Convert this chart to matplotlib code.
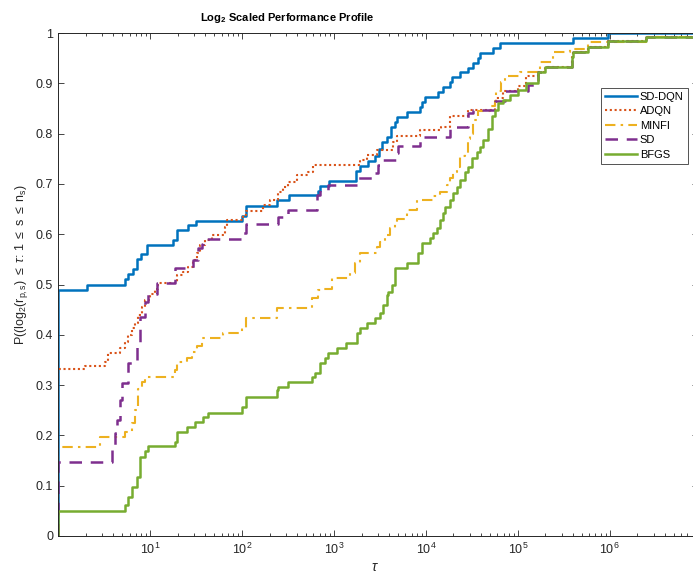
import numpy as np
import matplotlib

matplotlib.use("Agg")
import matplotlib.pyplot as plt
from matplotlib.ticker import FixedLocator, LogLocator, NullFormatter

plt.rcParams["font.family"] = ["Liberation Sans", "DejaVu Sans"]
plt.rcParams["mathtext.fontset"] = "custom"
plt.rcParams["mathtext.rm"] = "Liberation Sans"
plt.rcParams["mathtext.it"] = "Liberation Sans:italic"
plt.rcParams["mathtext.bf"] = "Liberation Sans:bold"

# ---- data (tau, P(tau)) ----
tau_sddqn = [1, 1, 2.05, 5.35, 5.81, 6.48, 7.17, 7.98, 9.21, 17.9, 19.5, 26.1, 31.6,
             99.3, 112, 238, 327, 675, 704, 883, 1730, 1920, 2360, 2790, 3110,
             3380, 3740, 4170, 4610, 4880, 6170, 8600, 9050, 9750, 13600, 15400,
             18200, 19200, 23400, 28800, 32700, 37000, 38600, 53900, 63700,
             399000, 959000]
p_sddqn = [0, 0.49, 0.50, 0.51, 0.52, 0.53, 0.55, 0.56, 0.578, 0.588, 0.608, 0.618,
           0.627, 0.637, 0.657, 0.667, 0.677, 0.686, 0.696, 0.706, 0.725, 0.735,
           0.745, 0.755, 0.77, 0.784, 0.794, 0.814, 0.824, 0.833, 0.843, 0.853,
           0.863, 0.873, 0.882, 0.892, 0.902, 0.912, 0.922, 0.931, 0.941, 0.951,
           0.961, 0.971, 0.98, 0.99, 1.0]

tau_adqn = [1, 1, 1.97, 3.24, 3.52, 4.72, 5.35, 5.81, 6.32, 6.87, 7.46, 8.13, 8.83,
            10, 11.3, 12.3, 19.5, 23.0, 26.1, 29.6, 32.2, 34.9, 39.6, 46.9, 65.3,
            69.2, 103, 112, 171, 201, 248, 281, 319, 393, 526, 596, 1920, 2270,
            2910, 4410, 4810, 8600, 14800, 18200, 28800, 56200, 58700, 69200,
            101000, 124000, 166000, 197000, 384000, 399000, 581000, 959000, 2510000]
p_adqn = [0, 0.333, 0.338, 0.345, 0.363, 0.373, 0.386, 0.40, 0.413, 0.424, 0.439,
          0.456, 0.469, 0.482, 0.492, 0.502, 0.519, 0.525, 0.535, 0.549, 0.562,
          0.578, 0.588, 0.598, 0.615, 0.628, 0.638, 0.646, 0.658, 0.668, 0.684,
          0.694, 0.704, 0.718, 0.724, 0.738, 0.748, 0.757, 0.767, 0.784, 0.795,
          0.807, 0.814, 0.834, 0.846, 0.864, 0.87, 0.884, 0.894, 0.914, 0.923,
          0.933, 0.953, 0.963, 0.973, 0.984, 0.993]

tau_minfi = [1, 1, 2.86, 5.35, 6.32, 6.87, 7.46, 8.13, 8.83, 18.7, 19.5, 25.1, 28.4,
             32.2, 36.5, 62.7, 99.3, 112, 238, 572, 675, 735, 944, 1490, 1690, 1920,
             2910, 3160, 3580, 4060, 4610, 4810, 6170, 7920, 12000, 14200, 16800,
             18200, 19800, 21600, 23400, 26500, 28800, 30100, 32700, 37000, 49600,
             56200, 58700, 66500, 72300, 105000, 173000, 242000, 367000, 581000,
             2510000]
p_minfi = [0, 0.176, 0.196, 0.207, 0.224, 0.25, 0.293, 0.307, 0.316, 0.33, 0.345,
           0.353, 0.366, 0.378, 0.393, 0.404, 0.413, 0.433, 0.453, 0.473, 0.489,
           0.492, 0.512, 0.522, 0.542, 0.562, 0.575, 0.585, 0.598, 0.612, 0.625,
           0.63, 0.648, 0.668, 0.675, 0.684, 0.698, 0.711, 0.724, 0.734, 0.755,
           0.761, 0.79, 0.80, 0.827, 0.844, 0.855, 0.864, 0.884, 0.903, 0.914,
           0.923, 0.943, 0.962, 0.968, 0.983, 0.993]

tau_sd = [1, 1, 3.83, 4.17, 4.35, 4.72, 4.92, 5.81, 7.17, 7.79, 8.83, 9.59, 11.8,
          18.7, 29.6, 33.5, 36.5, 37.9, 103, 112, 248, 319, 649, 704, 867, 1770,
          2790, 3030, 3300, 4810, 5000, 8600, 18200, 28800, 32700, 56200, 72300,
          129000, 166000, 197000, 384000, 399000, 581000, 959000, 2510000]
p_sd = [0, 0.147, 0.171, 0.204, 0.231, 0.27, 0.304, 0.343, 0.386, 0.436, 0.466,
        0.482, 0.502, 0.532, 0.549, 0.572, 0.58, 0.59, 0.602, 0.62, 0.635, 0.648,
        0.678, 0.688, 0.698, 0.711, 0.721, 0.738, 0.748, 0.762, 0.775, 0.793,
        0.813, 0.84, 0.846, 0.864, 0.884, 0.897, 0.923, 0.933, 0.953, 0.963,
        0.973, 0.984, 0.993]

tau_bfgs = [1, 1, 5.35, 5.81, 6.32, 7.17, 7.79, 8.83, 9.59, 18.7, 19.5, 25.1, 30.8,
            37.9, 43.0, 99.3, 112, 238, 248, 319, 572, 621, 704, 798, 867, 1070,
            1370, 1770, 1920, 2270, 2790, 3160, 3430, 3740, 3890, 4240, 4610, 6260,
            8250, 8980, 11000, 12000, 13100, 14200, 15400, 16100, 18200, 19800,
            21600, 23400, 26500, 28800, 31400, 35600, 38600, 42000, 47600, 51800,
            56200, 61100, 69200, 81900, 101000, 124000, 166000, 197000, 384000,
            399000, 581000, 959000, 2510000]
p_bfgs = [0, 0.049, 0.062, 0.078, 0.098, 0.118, 0.158, 0.168, 0.178, 0.187, 0.207,
          0.217, 0.227, 0.237, 0.245, 0.257, 0.276, 0.29, 0.297, 0.306, 0.317,
          0.325, 0.343, 0.353, 0.363, 0.373, 0.383, 0.403, 0.413, 0.423, 0.433,
          0.443, 0.459, 0.479, 0.486, 0.50, 0.532, 0.542, 0.562, 0.582, 0.592,
          0.602, 0.612, 0.628, 0.642, 0.655, 0.668, 0.681, 0.694, 0.708, 0.724,
          0.734, 0.751, 0.764, 0.774, 0.787, 0.81, 0.834, 0.847, 0.861, 0.867,
          0.877, 0.887, 0.90, 0.923, 0.933, 0.953, 0.963, 0.973, 0.984, 0.993]

labels = ["SD-DQN", "ADQN", "MINFI", "SD", "BFGS"]
x_ticks = [1e1, 1e2, 1e3, 1e4, 1e5, 1e6]
y_ticks = [0, 0.1, 0.2, 0.3, 0.4, 0.5, 0.6, 0.7, 0.8, 0.9, 1]

series = [(tau_sddqn, p_sddqn), (tau_adqn, p_adqn), (tau_minfi, p_minfi),
          (tau_sd, p_sd), (tau_bfgs, p_bfgs)]
colors = ["#0072BD", "#D95319", "#EDB120", "#7E2F8E", "#77AC30"]
styles = ["-", (0, (1, 1.3)), (0, (5, 2.5, 1.2, 2.5)), (0, (5, 3.5)), "-"]
widths = [1.8, 1.5, 1.5, 1.8, 1.8]

xmax = 10 ** 6.96

fig = plt.figure(figsize=(6.93, 5.75), dpi=100)
ax = fig.add_axes([58 / 693, 39 / 575, 640 / 693, 503 / 575])

for (t, p), c, ls, lw, lab in zip(series, colors, styles, widths, labels):
    t = np.append(t, xmax)
    p = np.append(p, p[-1])
    ax.step(t, p, where="post", color=c, linestyle=ls, linewidth=lw, label=lab)

ax.set_xscale("log")
ax.set_xlim(1, xmax)
ax.set_ylim(0, 1)
ax.xaxis.set_major_locator(FixedLocator(x_ticks))
ax.set_xticklabels(["$10^{%d}$" % int(np.log10(v)) for v in x_ticks])
ax.xaxis.set_minor_locator(LogLocator(base=10, subs=np.arange(2, 10), numticks=20))
ax.xaxis.set_minor_formatter(NullFormatter())
ax.set_yticks(y_ticks)
ax.set_yticklabels(["%g" % v for v in y_ticks])

for s in ax.spines.values():
    s.set_linewidth(0.7)
    s.set_color("#262626")
ax.tick_params(which="both", direction="in", top=True, right=True,
               colors="#262626", labelsize=9, width=0.6)
ax.tick_params(which="major", length=4.5)
ax.tick_params(which="minor", length=2.5)
ax.tick_params(axis="x", pad=4)

fig.text(287 / 693, 1 - 18 / 575, r"Log$_\mathbf{2}$ Scaled Performance Profile",
         ha="center", va="center", fontsize=8, fontweight="bold")
fig.text(22 / 693, 1 - 265 / 575,
         r"P((log$_2$(r$_\mathrm{p,s}$) $\leq$ $\tau$: 1 $\leq$ s $\leq$ n$_\mathrm{s}$)",
         rotation=90, ha="center", va="center", fontsize=9, color="#262626")
fig.text(375 / 693, 1 - 567 / 575, r"$\tau$", ha="center", va="center",
         fontsize=10, color="#262626")

leg = ax.legend(loc="upper left", bbox_to_anchor=(601 / 693, 1 - 88 / 575),
                bbox_transform=fig.transFigure, fontsize=8, frameon=True,
                fancybox=False, handlelength=2.9, handletextpad=0.25,
                borderpad=0.35, labelspacing=0.4, borderaxespad=0)
leg.get_frame().set_edgecolor("#262626")
leg.get_frame().set_linewidth(0.7)

fig.savefig("out.png", dpi=100)
